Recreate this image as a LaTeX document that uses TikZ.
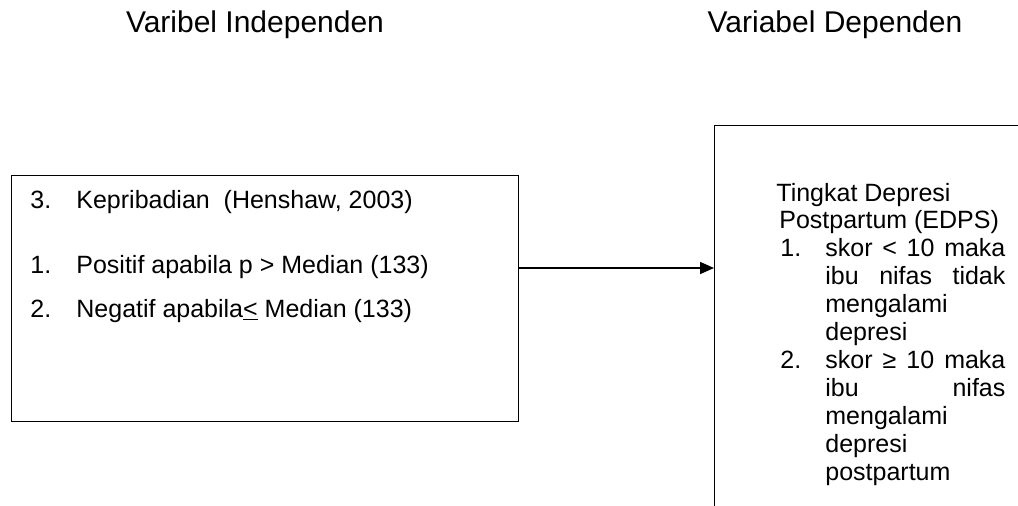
\documentclass[tikz,border=0pt]{standalone}
\usepackage{fontspec}
\setmainfont{Liberation Sans}
\usetikzlibrary{arrows.meta}

\begin{document}
\begin{tikzpicture} [
  x=0.5pt, y=-0.5pt,
  every node/.style= {font=\fontsize{12.5}{14}\selectfont},
  title/.style= {anchor=base,inner sep=0,font=\fontsize{15}{18}\selectfont},
  line/.style= {anchor=base west,inner sep=0},
  var box/.style= {draw,line width=0.65pt,rectangle,anchor=north west,inner sep=0},
  link/.style= {line width=0.8pt,-{Triangle[length=7pt,width=6pt]}},
]
\clip (0,0) rectangle (1018,505);
\node (tIndep) [title] at (255,32) {Varibel Independen};
\node (tDep) [title] at (835,32) {Variabel Dependen};
\node (indep) [var box,minimum width=253.5pt,minimum height=123pt] at (11,175) {};
\node (dep) [var box,minimum width=200pt,minimum height=250pt] at (714,125) {};
\coordinate (mid) at (600,268);
\draw [link] (indep.east |- mid) -- (dep.west |- mid);
% independent variable
\foreach \num/\txt/\y [count=\i] in {3./{Kepribadian\ \ (Henshaw, 2003)}/208,
    1./{Positif apabila p > Median (133)}/273,
    2./{Negatif apabila\underline{<} Median (133)}/317}
  {\node (inum\i) [line] at (30,\y) {\num};
   \node (item\i) [line] at (76,\y) {\txt};}
% dependent variable
\node (dhead1) [line] at (776,201) {Tingkat Depresi};
\node (dhead2) [line] at (779,228.9) {Postpartum (EDPS)};
\node (dnum1) [line] at (780,256.8) {1.};
\node (dnum2) [line] at (780,368.4) {2.};
\foreach \txt [count=\i from 2] in {\makebox[90pt][s]{skor < 10 maka},
    \makebox[90pt][s]{ibu nifas tidak}, mengalami, depresi,
    \makebox[90pt][s]{skor ≥ 10 maka}, \makebox[90pt][s]{ibu nifas},
    mengalami, depresi, postpartum}
  {\node (dline\i) [line] at (825,{201+27.9*\i}) {\txt};}
\end{tikzpicture}
\end{document}
